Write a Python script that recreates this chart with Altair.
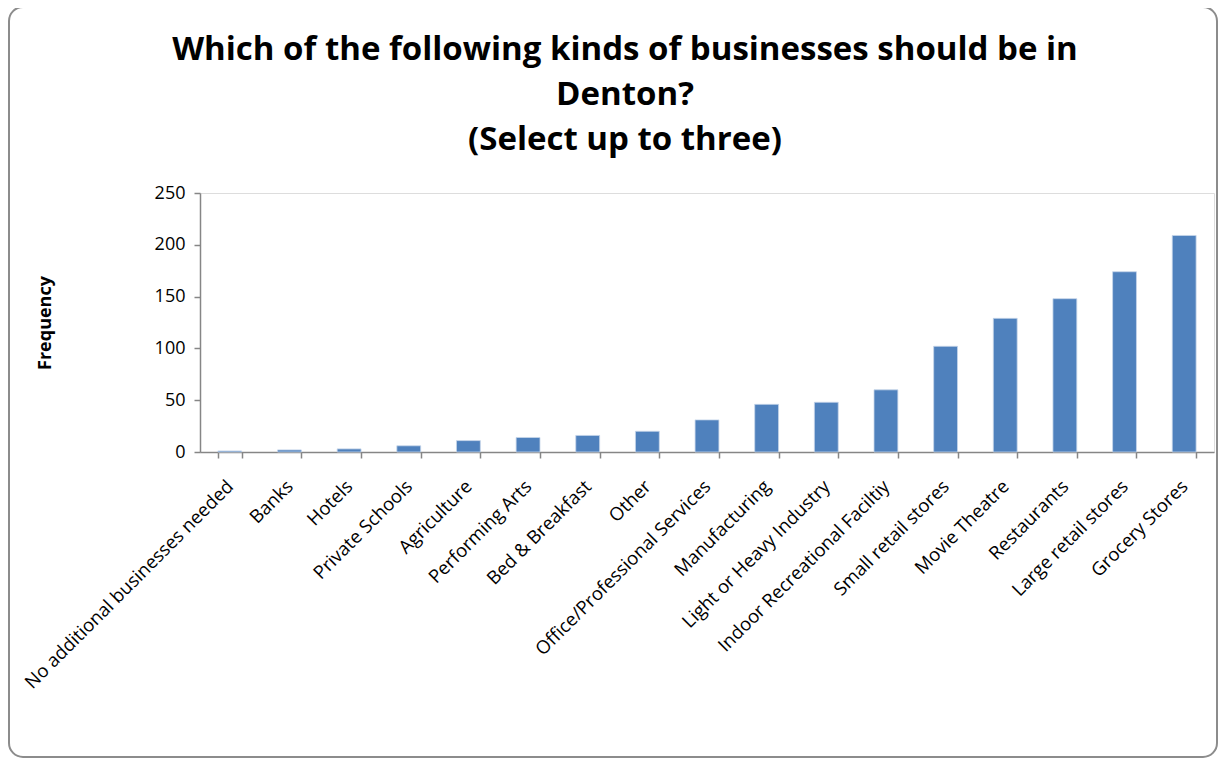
import altair as alt
import pandas as pd

categories = [
    "No additional businesses needed", "Banks", "Hotels", "Private Schools",
    "Agriculture", "Performing Arts", "Bed & Breakfast", "Other",
    "Office/Professional Services", "Manufacturing", "Light or Heavy Industry",
    "Indoor Recreational Faciltiy", "Small retail stores", "Movie Theatre",
    "Restaurants", "Large retail stores", "Grocery Stores",
]
frequency = [1, 2, 3, 6, 11, 14, 16, 20, 31, 46, 48, 60, 102, 129, 148, 174, 209]
y_ticks = [0, 50, 100, 150, 200, 250]
title_lines = ["Which of the following kinds of businesses should be in",
               "Denton?", "(Select up to three)"]

df = pd.DataFrame({"category": categories, "frequency": frequency})

FONT = "Open Sans"
W, H = 1014, 259

frame = alt.Chart(pd.DataFrame({"a": [0]})).mark_rect(
    fillOpacity=0, stroke="#8c8c8c", strokeWidth=2, cornerRadius=14, clip=False
).encode(x=alt.value(-191), x2=alt.value(W + 3), y=alt.value(-186), y2=alt.value(H + 305))

title = alt.Chart(pd.DataFrame({"a": [0]})).mark_text(
    text=title_lines, font=FONT, fontSize=33, fontWeight="bold", color="black",
    align="center", baseline="middle", lineHeight=45, clip=False
).encode(x=alt.value(425), y=alt.value(-143))

bars = alt.Chart(df).mark_bar(
    color="#4F81BD", stroke="#c6d5ea", strokeWidth=0.8
).encode(
    x=alt.X("category:N", sort=categories,
            scale=alt.Scale(paddingInner=0.6, paddingOuter=0.3),
            axis=alt.Axis(title=None, labelAngle=-45, labelFontSize=18.5, labelFont=FONT,
                          labelColor="black", labelPadding=25, tickBand="extent",
                          labelAlign="right", labelBaseline="middle",
                          tickSize=6, tickColor="#868686", domainColor="#868686",
                          domainWidth=1.5, tickWidth=1.5, labelLimit=400)),
    y=alt.Y("frequency:Q", scale=alt.Scale(domain=[0, 250], nice=False),
            axis=alt.Axis(values=y_ticks, grid=False, title="Frequency",
                          titleFont=FONT, titleFontSize=18, titleFontWeight="bold",
                          titleColor="black", titleAngle=-90, titleX=-155,
                          titleY=H / 2, titleAlign="center", titleBaseline="middle",
                          labelFontSize=18, labelFont=FONT, labelColor="black",
                          labelPadding=9, tickSize=6, tickColor="#868686",
                          domainColor="#868686", domainWidth=1.5, tickWidth=1.5)),
)

chart = alt.layer(frame, title, bars).properties(
    width=W, height=H,
    autosize=alt.AutoSizeParams(type="none"),
    padding={"left": 192, "top": 185, "right": 4, "bottom": 307},
).configure_view(stroke=None).configure(background="white")

chart.save("out.html", embed_options={"renderer": "svg", "actions": False})
